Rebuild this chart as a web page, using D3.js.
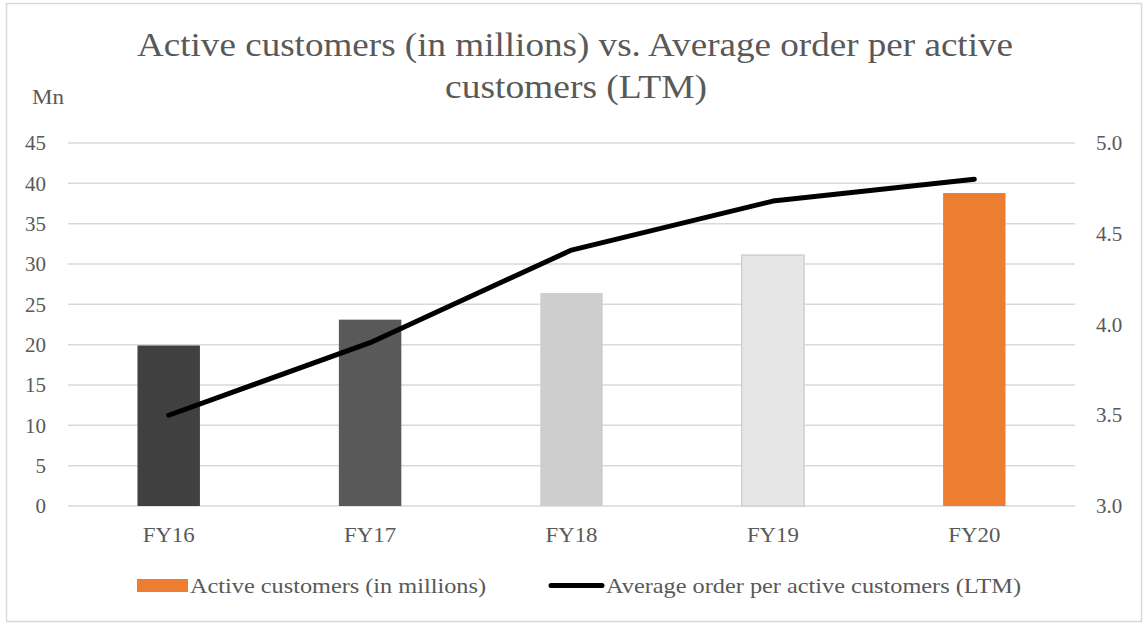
<!DOCTYPE html>
<html>
<head>
<meta charset="utf-8">
<script src="https://cdn.jsdelivr.net/npm/d3@7"></script>
<style>
  body { margin: 0; background: #fff; }
  text { font-family: "Liberation Serif", "Times New Roman", serif; fill: #595959; }
</style>
</head>
<body>
<div id="chart"></div>
<script>
// data
var years = ["FY16", "FY17", "FY18", "FY19", "FY20"];
var customers = [19.9, 23.1, 26.4, 31.1, 38.8];
var avgOrder = [3.5, 3.9, 4.41, 4.68, 4.8];
var barColors = ["#404040", "#595959", "#cecece", "#e6e6e6", "#ed7d31"];
var leftTicks = [0, 5, 10, 15, 20, 25, 30, 35, 40, 45];
var rightTicks = [3.0, 3.5, 4.0, 4.5, 5.0];

var W = 1148, H = 623;
var margin = {top: 143, right: 73, bottom: 117, left: 68};
var width = W - margin.left - margin.right;
var height = H - margin.top - margin.bottom;

var svg = d3.select("#chart").append("svg")
  .attr("width", W)
  .attr("height", H);

// outer border
svg.append("rect")
  .attr("x", 6.5).attr("y", 3.5)
  .attr("width", 1135).attr("height", 618)
  .attr("fill", "#fff")
  .attr("stroke", "#d9d9d9")
  .attr("stroke-width", 1.5);

// title
var title = svg.append("text")
  .attr("text-anchor", "start")
  .attr("font-size", 34);
title.append("tspan").attr("x", 137).attr("y", 56)
  .attr("textLength", 876).attr("lengthAdjust", "spacingAndGlyphs")
  .text("Active customers (in millions) vs. Average order per active");
title.append("tspan").attr("x", 445).attr("y", 98)
  .attr("textLength", 262).attr("lengthAdjust", "spacingAndGlyphs")
  .text("customers (LTM)");

svg.append("text")
  .attr("x", 32).attr("y", 104)
  .attr("font-size", 21)
  .attr("textLength", 32).attr("lengthAdjust", "spacingAndGlyphs")
  .text("Mn");

var g = svg.append("g")
  .attr("transform", "translate(" + margin.left + "," + margin.top + ")");

var x = d3.scaleBand()
  .domain(years)
  .range([0, width])
  .paddingInner(0.69)
  .paddingOuter(0.345);

var y = d3.scaleLinear().domain([0, 45]).range([height, 0]);
var y2 = d3.scaleLinear().domain([3, 5]).range([height, 0]);

// gridlines
g.selectAll(".grid")
  .data(leftTicks)
  .enter().append("line")
    .attr("x1", 0).attr("x2", width)
    .attr("y1", function(d) { return y(d); })
    .attr("y2", function(d) { return y(d); })
    .attr("stroke", "#d9d9d9")
    .attr("stroke-width", 1.5);

// left axis
var yAxis = g.append("g")
  .call(d3.axisLeft(y).tickValues(leftTicks).tickSize(0).tickPadding(22));
yAxis.select(".domain").remove();
yAxis.selectAll("text").attr("font-size", 21).attr("fill", "#595959")
  .style("font-family", "Liberation Serif");

// right axis
var y2Axis = g.append("g")
  .attr("transform", "translate(" + width + ",0)")
  .call(d3.axisRight(y2).tickValues(rightTicks).tickFormat(d3.format(".1f")).tickSize(0).tickPadding(21));
y2Axis.select(".domain").remove();
y2Axis.selectAll("text").attr("font-size", 21).attr("fill", "#595959")
  .style("font-family", "Liberation Serif");

// x axis labels
var xAxis = g.append("g")
  .attr("transform", "translate(0," + height + ")")
  .call(d3.axisBottom(x).tickSize(0).tickPadding(21));
xAxis.select(".domain").remove();
xAxis.selectAll("text").attr("font-size", 21).attr("fill", "#595959")
  .attr("textLength", 52).attr("lengthAdjust", "spacingAndGlyphs")
  .style("font-family", "Liberation Serif");

// bars
g.selectAll(".bar")
  .data(customers)
  .enter().append("rect")
    .attr("x", function(d, i) { return x(years[i]); })
    .attr("width", x.bandwidth())
    .attr("y", function(d) { return y(d); })
    .attr("height", function(d) { return height - y(d); })
    .attr("fill", function(d, i) { return barColors[i]; })
    .attr("stroke", function(d, i) { return i == 3 ? "#d0d0d0" : "none"; })
    .attr("stroke-width", 1.5);

// line
var line = d3.line()
  .x(function(d, i) { return x(years[i]) + x.bandwidth() / 2; })
  .y(function(d) { return y2(d); });

g.append("path")
  .datum(avgOrder)
  .attr("fill", "none")
  .attr("stroke", "#000")
  .attr("stroke-width", 5)
  .attr("stroke-linecap", "round")
  .attr("stroke-linejoin", "round")
  .attr("d", line);

// legend
var legend = svg.append("g");
legend.append("rect")
  .attr("x", 137).attr("y", 579)
  .attr("width", 51).attr("height", 13)
  .attr("fill", "#ed7d31");
legend.append("text")
  .attr("x", 190).attr("y", 593)
  .attr("font-size", 21)
  .attr("textLength", 296).attr("lengthAdjust", "spacingAndGlyphs")
  .text("Active customers (in millions)");
legend.append("line")
  .attr("x1", 551).attr("x2", 602)
  .attr("y1", 585.5).attr("y2", 585.5)
  .attr("stroke", "#000")
  .attr("stroke-width", 5)
  .attr("stroke-linecap", "round");
legend.append("text")
  .attr("x", 606).attr("y", 593)
  .attr("font-size", 21)
  .attr("textLength", 415).attr("lengthAdjust", "spacingAndGlyphs")
  .text("Average order per active customers (LTM)");
</script>
</body>
</html>
